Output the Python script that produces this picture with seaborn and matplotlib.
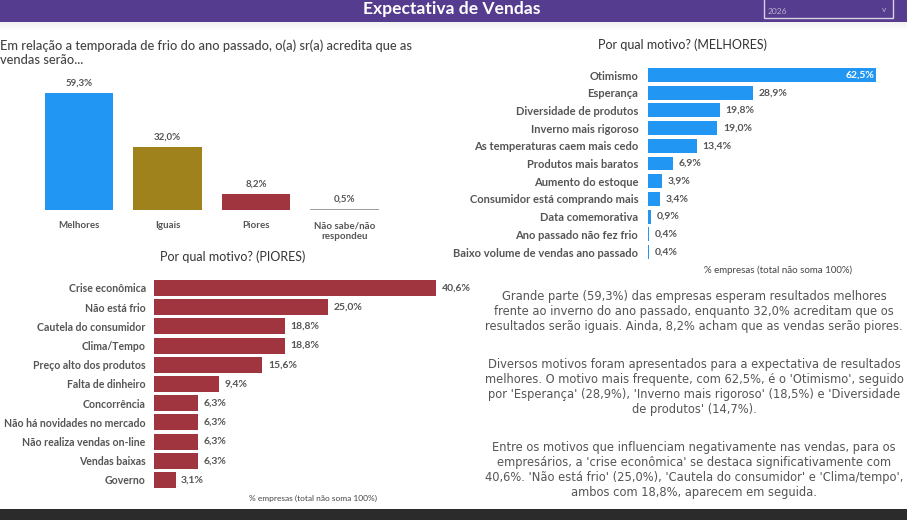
import numpy as np
import pandas as pd
import seaborn as sns
import matplotlib.pyplot as plt
from matplotlib.patches import Rectangle

# ---------------- dados ----------------
resp_cats = ["Melhores", "Iguais", "Piores", "Não sabe/não\nrespondeu"]
resp_vals = [59.3, 32.0, 8.2, 0.5]
resp_colors = ["#2196F3", "#A0821C", "#A0343F", "#9E9E9E"]

melhores_cats = ["Otimismo", "Esperança", "Diversidade de produtos",
                 "Inverno mais rigoroso", "As temperaturas caem mais cedo",
                 "Produtos mais baratos", "Aumento do estoque",
                 "Consumidor está comprando mais", "Data comemorativa",
                 "Ano passado não fez frio", "Baixo volume de vendas ano passado"]
melhores_vals = [62.5, 28.9, 19.8, 19.0, 13.4, 6.9, 3.9, 3.4, 0.9, 0.4, 0.4]

piores_cats = ["Crise econômica", "Não está frio", "Cautela do consumidor",
               "Clima/Tempo", "Preço alto dos produtos", "Falta de dinheiro",
               "Concorrência", "Não há novidades no mercado",
               "Não realiza vendas on-line", "Vendas baixas", "Governo"]
piores_vals = [40.6, 25.0, 18.8, 18.8, 15.6, 9.4, 6.3, 6.3, 6.3, 6.3, 3.1]

texto1 = ("Grande parte (59,3%) das empresas esperam resultados melhores\n"
          "frente ao inverno do ano passado, enquanto 32,0% acreditam que os\n"
          "resultados serão iguais. Ainda, 8,2% acham que as vendas serão piores.")
texto2 = ("Diversos motivos foram apresentados para a expectativa de resultados\n"
          "melhores. O motivo mais frequente, com 62,5%, é o 'Otimismo', seguido\n"
          "por 'Esperança' (28,9%), 'Inverno mais rigoroso' (18,5%) e 'Diversidade\n"
          "de produtos' (14,7%).")
texto3 = ("Entre os motivos que influenciam negativamente nas vendas, para os\n"
          "empresários, a 'crise econômica' se destaca significativamente com\n"
          "40,6%. 'Não está frio' (25,0%), 'Cautela do consumidor' e 'Clima/tempo',\n"
          "ambos com 18,8%, aparecem em seguida.")

# ---------------- estilo ----------------
sns.set_style("white")
plt.rcParams['font.family'] = ['Lato', 'DejaVu Sans']
CINZA = "#555555"
W, H = 907, 520

fig = plt.figure(figsize=(W / 100, H / 100), dpi=100)


def pct(v):
    return f"{v:.1f}%".replace(".", ",")


def eixo(x0, y0, x1, y1):
    # retângulo em pixels (origem no topo)
    return fig.add_axes([x0 / W, 1 - y1 / H, (x1 - x0) / W, (y1 - y0) / H])


def ftxt(x, y, s, **kw):
    return fig.text(x / W, 1 - y / H, s, **kw)


def limpa(ax):
    sns.despine(ax=ax, left=True, bottom=True)
    ax.set_xlabel("")
    ax.set_ylabel("")
    ax.set_facecolor("none")


# ---------------- cabeçalho ----------------
fig.add_artist(Rectangle((0, 1 - 22 / H), 1, 22 / H, transform=fig.transFigure,
                         facecolor="#553C8E", edgecolor="none"))
for i in range(8):
    fig.add_artist(Rectangle((0, 1 - (23 + i) / H), 1, 1 / H, transform=fig.transFigure,
                             facecolor="#000000", alpha=0.05 * (8 - i) / 8, edgecolor="none"))
ftxt(452, 9, "Expectativa de Vendas", ha="center", va="center", color="white",
     fontsize=12.6, fontweight="bold")
fig.add_artist(Rectangle((764 / W, 1 - 18 / H), 129 / W, 22 / H, transform=fig.transFigure,
                         facecolor="none", edgecolor="#D8D2E6", linewidth=1))
ftxt(768, 11, "2026", ha="left", va="center", color="#B9B0CF", fontsize=6)
ftxt(884, 9, "v", ha="center", va="center", color="#B9B0CF", fontsize=6)

# rodapé escuro
fig.add_artist(Rectangle((0, 0), 1, 11 / H, transform=fig.transFigure,
                         facecolor="#2B2B2B", edgecolor="none"))

# ---------------- gráfico 1: colunas ----------------
ftxt(0, 52.5, "Em relação a temporada de frio do ano passado, o(a) sr(a) acredita que as\nvendas serão...",
     ha="left", va="center", color="#444444", fontsize=9.3, fontweight="medium",
     linespacing=1.16)

ax1 = eixo(34.75, 72, 388.75, 210)
df1 = pd.DataFrame({"cat": resp_cats, "val": resp_vals})
sns.barplot(data=df1, x="cat", y="val", hue="cat", palette=resp_colors,
            legend=False, width=0.77, linewidth=0, saturation=1, ax=ax1)
ax1.set_ylim(0, 70)
for cont, v in zip(ax1.containers, resp_vals):
    ax1.bar_label(cont, labels=[pct(v)], padding=4, fontsize=7, fontweight="bold", color=CINZA)
limpa(ax1)
ax1.set_yticks([])
ax1.tick_params(axis="x", length=0, pad=8, labelsize=7, labelcolor=CINZA)
for t in ax1.get_xticklabels():
    t.set_fontweight("bold")
    t.set_verticalalignment("top")

# ---------------- gráfico 2: melhores ----------------
ftxt(682, 45, "Por qual motivo? (MELHORES)", ha="center", va="center",
     color="#333333", fontsize=9)
ax2 = eixo(648, 66.15, 885, 260.85)
sns.barplot(x=melhores_vals, y=melhores_cats, color="#2196F3", orient="h",
            width=0.79, linewidth=0, saturation=1, ax=ax2)
ax2.set_xlim(0, 65)
labs = ["" if v > 50 else pct(v) for v in melhores_vals]
ax2.bar_label(ax2.containers[0], labels=labs, padding=4, fontsize=7.5,
              fontweight="bold", color=CINZA)
ax2.bar_label(ax2.containers[0], labels=[pct(v) if v > 50 else "" for v in melhores_vals],
              label_type="edge", padding=-22, fontsize=7.5, fontweight="bold", color="white")
limpa(ax2)
ax2.set_xticks([])
ax2.tick_params(axis="y", length=0, pad=7, labelsize=8, labelcolor=CINZA)
for t in ax2.get_yticklabels():
    t.set_fontweight("bold")
ftxt(778, 270, "% empresas (total não soma 100%)", ha="center", va="center",
     color="#444444", fontsize=7)

# ---------------- gráfico 3: piores ----------------
ftxt(233, 257, "Por qual motivo? (PIORES)", ha="center", va="center",
     color="#333333", fontsize=9)
ax3 = eixo(154, 278.4, 466.75, 489.6)
sns.barplot(x=piores_vals, y=piores_cats, color="#A0343F", orient="h",
            width=0.83, linewidth=0, saturation=1, ax=ax3)
ax3.set_xlim(0, 45)
ax3.bar_label(ax3.containers[0], labels=[pct(v) for v in piores_vals], padding=4,
              fontsize=7.5, fontweight="bold", color=CINZA)
limpa(ax3)
ax3.set_xticks([])
ax3.tick_params(axis="y", length=0, pad=6, labelsize=7.6, labelcolor=CINZA)
for t in ax3.get_yticklabels():
    t.set_fontweight("bold")
ftxt(313, 498, "% empresas (total não soma 100%)", ha="center", va="center",
     color="#444444", fontsize=6)

# ---------------- textos ----------------
for txt, yc in [(texto1, 311.5), (texto2, 387), (texto3, 470)]:
    ftxt(694, yc, txt, ha="center", va="center", color=CINZA, fontsize=8.3,
         family="DejaVu Sans", linespacing=1.17)

fig.savefig("out.png", dpi=100)
